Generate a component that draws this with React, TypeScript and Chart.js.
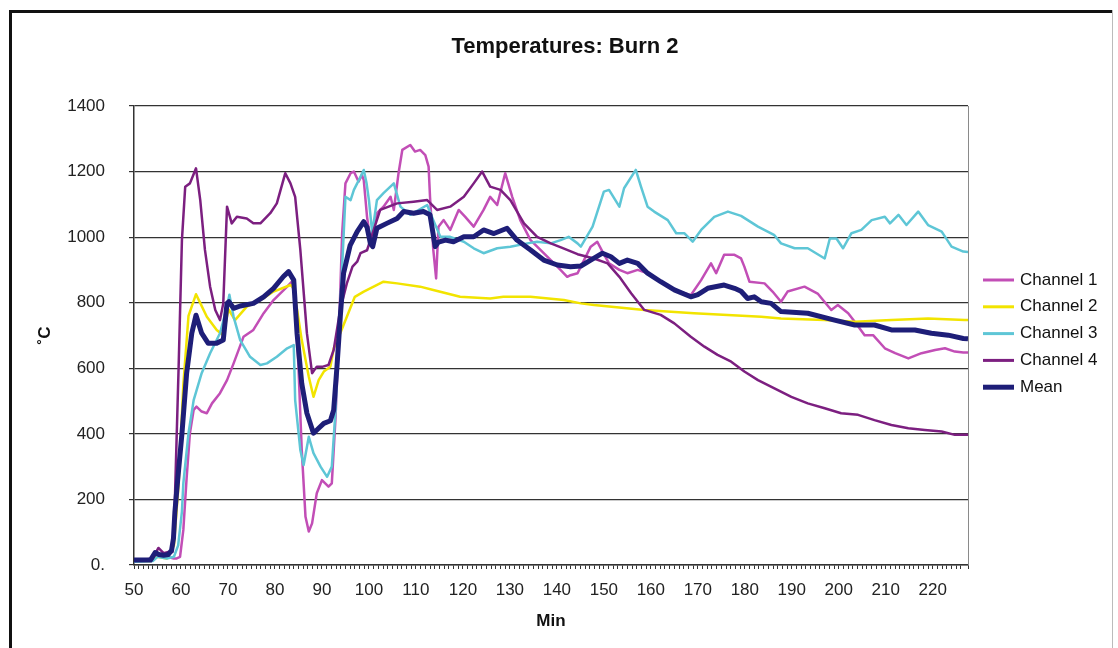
import React, { useEffect, useRef } from 'react';
import { Chart, registerables } from 'chart.js';

Chart.register(...registerables);

const TITLE = 'Temperatures: Burn 2';
const X_TITLE = 'Min';
const Y_TITLE = '˚C';
const SERIES_LABELS = ['Channel 1', 'Channel 2', 'Channel 3', 'Channel 4', 'Mean'];
const SERIES_COLORS = ['#C24EB6', '#F2E400', '#5EC6D6', '#7C1F80', '#1E1E78'];
const SERIES_WIDTHS = [2.5, 2.5, 2.5, 2.5, 5];
const X_MIN = 50;
const X_MAX = 227.5;
const Y_MIN = 0;
const Y_MAX = 1400;
const Y_STEP = 200;

const ch1Min = [50, 54, 55, 57, 58.5, 59.1, 59.8, 60.5, 60.9, 61.2, 61.9, 62.7, 63.3, 64.4, 65.5, 66.6, 68.3, 69.8, 71.2, 73.3, 75.4, 77.6, 79.7, 82.6, 83.6, 84.3, 85, 85.7, 86.5, 87.2, 87.9, 88.9, 90, 91.4, 92.1, 92.9, 93.6, 94.3, 95, 96.1, 96.8, 97.8, 98.5, 98.9, 99.6, 100.3, 101.7, 103.1, 104.6, 105.3, 106.3, 107.1, 108.8, 109.8, 110.9, 112, 112.7, 113, 113.7, 114.3, 114.8, 115.9, 117.3, 119.1, 120.5, 122.3, 124.4, 125.8, 127.3, 129, 130.5, 132.2, 134.4, 137.2, 140.1, 142.2, 142.9, 144.4, 145.1, 147.2, 148.6, 149.7, 151.1, 153.3, 155, 157.2, 159.3, 162.1, 165, 168.5, 170.7, 172.8, 173.9, 175.6, 177.8, 179.2, 179.9, 181, 184.2, 185.9, 187.7, 189.1, 192.7, 195.5, 198.4, 199.8, 202, 203.4, 205.5, 207.3, 209.8, 212, 214.8, 217.6, 220.5, 222.6, 224.7, 226.5, 227.5];
const ch1Temp = [15, 15, 30, 25, 20, 20, 25, 107, 198, 265, 402, 473, 483, 468, 463, 493, 524, 564, 615, 696, 717, 768, 808, 849, 864, 808, 605, 351, 147, 102, 127, 219, 259, 239, 249, 452, 700, 1012, 1164, 1195, 1200, 1169, 1190, 1174, 1062, 991, 1073, 1093, 1123, 1083, 1195, 1266, 1281, 1261, 1266, 1250, 1215, 1123, 961, 874, 1032, 1052, 1022, 1083, 1062, 1032, 1083, 1123, 1098, 1195, 1123, 1052, 991, 951, 910, 879, 884, 890, 910, 971, 986, 956, 920, 900, 890, 900, 890, 864, 839, 823, 869, 920, 890, 946, 946, 935, 910, 864, 859, 834, 803, 834, 849, 828, 778, 793, 768, 742, 701, 701, 661, 646, 630, 646, 656, 661, 651, 648, 648];

const ch2Min = [50, 53.5, 55, 57, 58.5, 59.5, 60.5, 61.6, 63.2, 63.8, 65.5, 67.6, 69, 70.1, 71.5, 74, 76.9, 79.7, 83.3, 84, 85.7, 87.2, 88.2, 89.3, 90.4, 91.8, 92.5, 93.9, 97, 98.9, 103.1, 106, 110.9, 113.7, 119.4, 125.8, 128.6, 134.4, 141.5, 145.1, 147.9, 158.6, 169.2, 183.5, 187.7, 196.9, 203.4, 211.2, 219, 226.8, 227.5];
const ch2Temp = [12, 12, 25, 20, 60, 250, 550, 760, 826, 808, 757, 717, 701, 780, 747, 788, 808, 834, 854, 845, 686, 574, 513, 564, 590, 605, 660, 707, 818, 834, 864, 859, 849, 839, 818, 813, 818, 818, 808, 798, 793, 778, 768, 757, 752, 747, 742, 747, 752, 747, 747];

const ch3Min = [50, 54, 55, 57, 58.5, 59.4, 60.2, 60.5, 61.6, 62.7, 64.4, 66.2, 68.3, 69.8, 70.3, 71.2, 72.6, 74.7, 76.9, 78.3, 80.4, 82.6, 84, 84.3, 85.4, 86.1, 87.2, 88.2, 89.7, 91.1, 92.1, 92.9, 93.6, 94.3, 95, 96.1, 96.8, 98.2, 98.9, 99.5, 100, 100.7, 101.7, 103.1, 105.3, 106.7, 108.8, 112.4, 113.7, 115.2, 117.3, 120.2, 122.3, 124.4, 127.3, 130.1, 133.7, 135.8, 138.7, 140.8, 142.5, 144.4, 145.1, 147.6, 150, 151.1, 153.3, 154.3, 156.8, 157.9, 159.3, 160.7, 163.6, 165.4, 167.1, 168.9, 170.7, 173.5, 176.4, 179.2, 182.8, 186.3, 187.7, 190.6, 193.4, 197, 198.1, 199.5, 200.9, 202.7, 204.8, 207, 209.8, 210.9, 212.7, 214.4, 216.9, 219, 221.9, 224, 226.5, 227.5];
const ch3Temp = [10, 12, 25, 20, 25, 60, 163, 249, 402, 503, 585, 646, 707, 788, 824, 757, 686, 635, 610, 615, 635, 661, 671, 503, 351, 305, 391, 341, 300, 269, 300, 473, 707, 910, 1123, 1113, 1144, 1184, 1205, 1164, 1113, 1012, 1113, 1134, 1164, 1093, 1068, 1098, 1052, 1001, 1001, 986, 966, 951, 966, 971, 981, 986, 981, 991, 1001, 981, 971, 1032, 1139, 1144, 1093, 1149, 1205, 1154, 1093, 1078, 1052, 1012, 1012, 986, 1022, 1062, 1078, 1065, 1032, 1006, 981, 966, 966, 935, 996, 996, 966, 1012, 1022, 1052, 1062, 1042, 1068, 1037, 1078, 1037, 1017, 971, 956, 955];

const ch4Min = [50, 54, 55.2, 56.3, 57.3, 58.2, 58.7, 59.5, 60.2, 60.9, 61.9, 63.2, 64.1, 65.1, 66.2, 67.3, 68.3, 69, 69.8, 70.8, 71.9, 74, 75.4, 76.9, 79, 80.4, 82.2, 83.3, 84.3, 85.4, 86.8, 87.9, 88.9, 90.2, 91.4, 92.5, 93.9, 95.3, 96.5, 97.5, 98.2, 99.6, 100.3, 102.4, 106, 109.5, 112.4, 114.5, 117.3, 120.2, 122.3, 124.1, 125.8, 128, 130.1, 133, 135.8, 138.7, 141, 144.4, 147.9, 150.8, 153.3, 155.8, 158.6, 162.1, 165, 168.5, 171.4, 174.2, 177.1, 179.9, 182.8, 186.3, 189.9, 193.4, 197, 200.5, 204.1, 207.6, 211.2, 214.8, 218.3, 221.9, 224.7, 226.5, 227.5];
const ch4Temp = [12, 20, 52, 36, 40, 40, 198, 605, 991, 1154, 1164, 1210, 1113, 961, 849, 778, 747, 798, 1093, 1042, 1062, 1057, 1042, 1042, 1073, 1103, 1195, 1164, 1123, 961, 707, 585, 605, 605, 610, 656, 780, 859, 910, 925, 951, 960, 991, 1083, 1103, 1108, 1113, 1083, 1093, 1123, 1164, 1200, 1154, 1144, 1113, 1042, 1001, 981, 968, 948, 935, 920, 879, 829, 778, 763, 737, 696, 666, 641, 620, 590, 564, 539, 513, 493, 478, 463, 458, 442, 427, 417, 412, 407, 397, 397, 397];

const meanMin = [50, 53.5, 54.5, 55.3, 56.3, 57.3, 58, 58.4, 58.7, 59.3, 60.2, 61.2, 62.3, 63.2, 64.4, 65.8, 67.5, 69, 69.8, 70.2, 71.2, 72.6, 75.4, 77.6, 79.7, 81.8, 82.9, 84, 84.7, 85.7, 86.8, 88.2, 89.3, 90.4, 91.8, 92.5, 93.2, 93.9, 94.6, 96, 97.5, 98.9, 99.6, 100.3, 100.8, 101.7, 103.8, 106, 107.4, 109.5, 111.6, 113, 114.1, 114.8, 116.3, 118, 120.2, 122.3, 124.4, 126.6, 129.4, 131.5, 134.4, 137.2, 140.1, 142.9, 145.1, 147.2, 149.7, 151.5, 153.3, 155, 157.2, 159.3, 162.1, 165, 168.5, 170, 172.1, 175.6, 177.8, 179.2, 180.6, 182, 183.5, 185.6, 187.7, 193.4, 199.1, 203.4, 207.6, 211.2, 216.2, 219.7, 223.3, 226.5, 227.5];
const meanTemp = [15, 15, 38, 32, 30, 32, 45, 81, 160, 260, 400, 585, 707, 762, 707, 676, 676, 686, 798, 803, 783, 790, 798, 818, 844, 880, 895, 869, 707, 554, 463, 402, 417, 432, 440, 473, 605, 757, 890, 975, 1017, 1047, 1030, 981, 971, 1027, 1042, 1057, 1078, 1073, 1078, 1068, 971, 985, 991, 986, 1001, 1001, 1022, 1011, 1027, 991, 961, 930, 915, 910, 912, 930, 951, 940, 920, 930, 920, 890, 864, 839, 818, 825, 844, 854, 844, 835, 813, 818, 803, 798, 773, 768, 747, 732, 732, 717, 717, 707, 701, 691, 690];

const SERIES_MINUTES = [ch1Min, ch2Min, ch3Min, ch4Min, meanMin];
const SERIES_TEMPS = [ch1Temp, ch2Temp, ch3Temp, ch4Temp, meanTemp];

const FONT = '"Liberation Sans", Arial, Helvetica, sans-serif';

const toPoints = (mins: number[], temps: number[]) =>
  mins.map((m, i) => ({ x: m, y: temps[i] }));

const decorPlugin = {
  id: 'decor',
  beforeDraw(chart: any) {
    const ctx = chart.ctx;
    ctx.save();
    ctx.fillStyle = '#ffffff';
    ctx.fillRect(0, 0, chart.width, chart.height);
    // page frame
    ctx.fillStyle = '#111111';
    ctx.fillRect(9, 10, 3, chart.height - 10);
    ctx.fillRect(9, 10, 1104, 3);
    ctx.fillStyle = '#bbbbbb';
    ctx.fillRect(1112, 10, 1, chart.height - 10);
    ctx.restore();
  },
  afterDraw(chart: any) {
    const ctx = chart.ctx;
    const area = chart.chartArea;
    ctx.save();
    // plot right border
    ctx.strokeStyle = '#8a8a8a';
    ctx.lineWidth = 1;
    ctx.beginPath();
    ctx.moveTo(Math.round(area.right) + 0.5, area.top);
    ctx.lineTo(Math.round(area.right) + 0.5, area.bottom);
    ctx.stroke();
    // title
    ctx.fillStyle = '#111111';
    ctx.font = 'bold 22px ' + FONT;
    ctx.textAlign = 'center';
    ctx.textBaseline = 'middle';
    ctx.fillText(TITLE, 565, 47);
    // legend
    const startY = 280;
    const stepY = 26.8;
    ctx.font = '17px ' + FONT;
    ctx.textAlign = 'left';
    chart.data.datasets.forEach((ds: any, i: number) => {
      const y = startY + i * stepY;
      ctx.strokeStyle = ds.borderColor;
      ctx.lineWidth = i === 4 ? 5 : 3;
      ctx.lineCap = 'butt';
      ctx.beginPath();
      ctx.moveTo(983, y);
      ctx.lineTo(1014, y);
      ctx.stroke();
      ctx.fillStyle = '#111111';
      ctx.fillText(ds.label, 1020, y);
    });
    ctx.restore();
  },
};

export default function App() {
  const canvasRef = useRef<HTMLCanvasElement | null>(null);

  useEffect(() => {
    const canvas = canvasRef.current;
    if (!canvas) return;
    const datasets = SERIES_LABELS.map((label, i) => ({
      label,
      data: toPoints(SERIES_MINUTES[i], SERIES_TEMPS[i]),
      borderColor: SERIES_COLORS[i],
      backgroundColor: SERIES_COLORS[i],
      borderWidth: SERIES_WIDTHS[i],
      pointRadius: 0,
      tension: 0,
      borderJoinStyle: 'round' as const,
      fill: false,
      order: 4 - i,
    }));

    const chart = new Chart(canvas, {
      type: 'line',
      data: { datasets },
      plugins: [decorPlugin],
      options: {
        animation: false,
        responsive: false,
        devicePixelRatio: 1,
        layout: { padding: { left: 12, right: 150, top: 106, bottom: 13 } },
        font: { family: FONT } as any,
        plugins: {
          legend: { display: false },
          title: { display: false },
          tooltip: { enabled: false },
        },
        scales: {
          x: {
            type: 'linear',
            min: X_MIN,
            max: X_MAX,
            ticks: {
              stepSize: 1,
              autoSkip: false,
              maxRotation: 0,
              minRotation: 0,
              padding: 11,
              color: '#222222',
              font: { family: FONT, size: 17 },
              callback: (v: any) => {
                const n = Number(v);
                const r = Math.round(n / 10) * 10;
                return Math.abs(n - r) < 1e-6 ? String(r) : '';
              },
            },
            grid: {
              drawOnChartArea: false,
              drawTicks: true,
              tickLength: 4,
              color: '#333333',
              lineWidth: 1,
            },
            border: { display: true, color: '#333333', width: 1.5 },
            title: {
              display: true,
              text: X_TITLE,
              color: '#111111',
              font: { family: FONT, size: 17, weight: 'bold' },
              padding: { top: 0, bottom: 3 },
            },
            afterFit: (s: any) => {
              s.height = 70;
            },
          },
          y: {
            type: 'linear',
            min: Y_MIN,
            max: Y_MAX,
            ticks: {
              stepSize: Y_STEP,
              padding: 24,
              color: '#222222',
              font: { family: FONT, size: 17 },
              callback: (v: any) => (Number(v) === 0 ? '0.' : String(v)),
            },
            grid: {
              color: '#333333',
              lineWidth: 1.2,
              drawTicks: true,
              tickLength: 5,
            },
            border: { display: true, color: '#333333', width: 1.5 },
            title: {
              display: true,
              text: Y_TITLE,
              color: '#111111',
              font: { family: FONT, size: 17, weight: 'bold' },
              padding: { top: 23, bottom: 0 },
            },
            afterFit: (s: any) => {
              s.width = 122;
            },
          },
        },
      } as any,
    });
    return () => chart.destroy();
  }, []);

  return (
    <div style={{ position: 'fixed', left: 0, top: 0, width: 1118, height: 648, background: '#fff' }}>
      <canvas ref={canvasRef} width={1118} height={648} style={{ display: 'block' }} />
    </div>
  );
}
